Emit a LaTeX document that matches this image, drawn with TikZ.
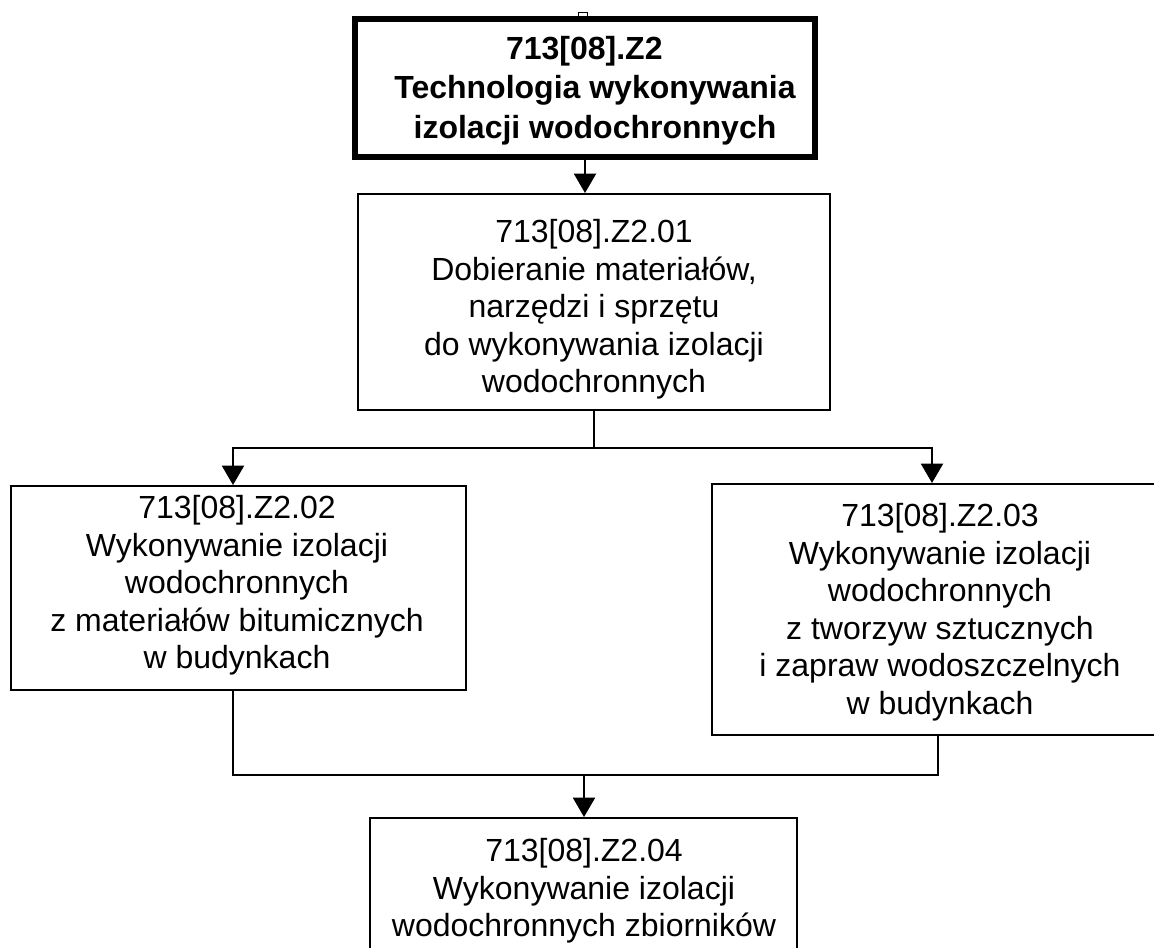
\documentclass[tikz,border=0pt]{standalone}
\usepackage{fontspec}
\setmainfont{Liberation Sans}
\usetikzlibrary{arrows.meta,fit}
\tikzset{
  box/.style={draw=black, line width=1.5pt, inner sep=0pt},
  mainbox/.style={draw=black, line width=4.5pt, inner sep=0pt},
  txt/.style={align=center, inner sep=0pt, anchor=north,
    font=\fontsize{24pt}{28.2pt}\selectfont},
  line/.style={draw=black, line width=1.5pt},
  conn/.style={line, -{Triangle[width=16.5pt,length=14.5pt]}}
}
\begin{document}
\begin{tikzpicture}[x=0.75pt,y=-0.75pt]
\clip (0,0) rectangle (1154,947);
\fill[white] (0,0) rectangle (1154,947);

% boxes
\node[draw=black, line width=0.75pt, inner sep=0pt, fit={(578,12) (587,18)}] (tab) {};
\node[mainbox, fit={(355,19) (815,157)}] (top) {};
\node[box, fit={(358,194) (830,410)}] (b01) {};
\node[box, fit={(11,486) (466,690)}] (b02) {};
\node[box, fit={(712,484) (1168,735)}] (b03) {};
\node[box, fit={(370,818) (797,990)}] (b04) {};

% texts
\node[txt, font=\fontsize{24pt}{29.6pt}\selectfont\bfseries] (ttop) at (595,36)
  {713[08].Z2\hspace*{16pt}\\Technologia wykonywania\\izolacji wodochronnych};
\node[txt] (t01) at (594,219)
  {713[08].Z2.01\\Dobieranie materiałów,\\narzędzi i sprzętu\\do wykonywania izolacji\\wodochronnych};
\node[txt] (t02) at (237,495)
  {713[08].Z2.02\\Wykonywanie izolacji\\wodochronnych\\z materiałów bitumicznych\\w budynkach};
\node[txt] (t03) at (940,503)
  {713[08].Z2.03\\Wykonywanie izolacji\\wodochronnych\\z tworzyw sztucznych\\i zapraw wodoszczelnych\\w budynkach};
\node[txt] (t04) at (584,838)
  {713[08].Z2.04\\Wykonywanie izolacji\\wodochronnych zbiorników};

% connector guide points
\coordinate (s1) at (593,448);
\coordinate (x02) at (233,0);
\coordinate (x03) at (932,0);
\coordinate (xr) at (938,0);
\coordinate (m) at (584,775);

% connectors
\draw[conn] (top.south) -- (top.south |- b01.north);
\draw[line] (b01.south) -- (b01.south |- s1);
\draw[conn] (b01.south |- s1) -| (x02 |- b02.north);
\draw[conn] (b01.south |- s1) -| (x03 |- b03.north);
\draw[line] (x02 |- b02.south) |- (xr |- m) -- (xr |- b03.south);
\draw[conn] (m) -- (m |- b04.north);
\end{tikzpicture}
\end{document}
